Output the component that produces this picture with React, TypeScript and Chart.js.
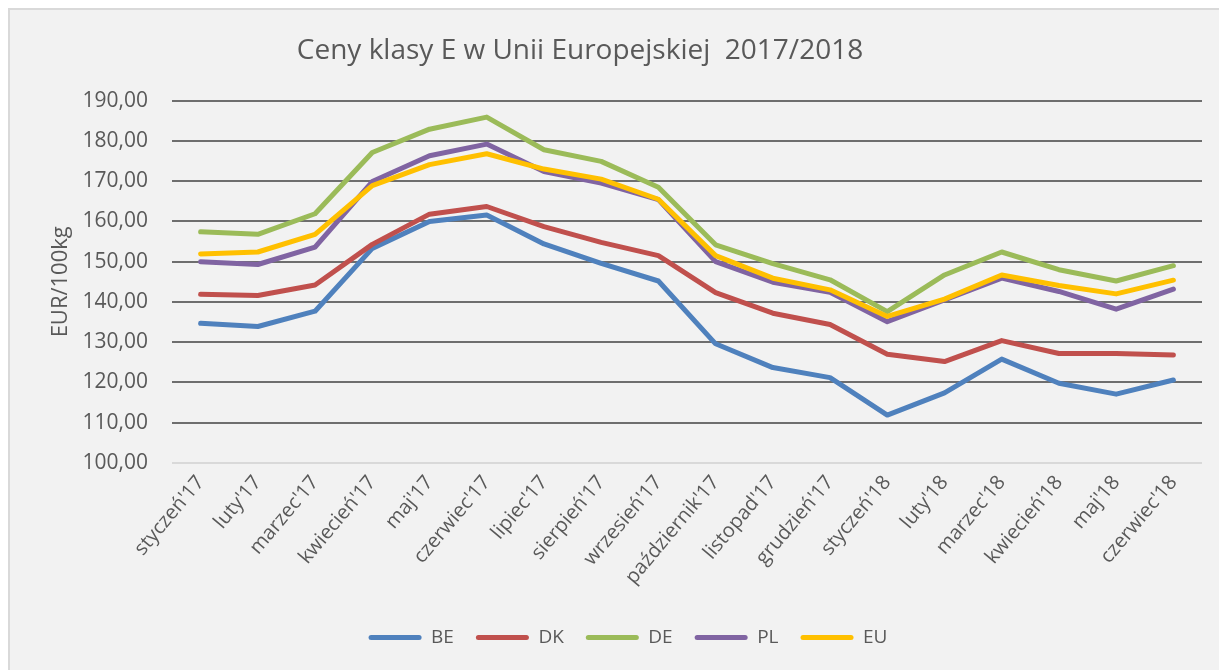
import React, { useEffect, useRef } from "react";
import { Chart, registerables } from "chart.js";

Chart.register(...registerables);

const months: string[] = [
  "styczeń'17", "luty'17", "marzec'17", "kwiecień'17", "maj'17", "czerwiec'17",
  "lipiec'17", "sierpień'17", "wrzesień'17", "październik'17", "listopad'17", "grudzień'17",
  "styczeń'18", "luty'18", "marzec'18", "kwiecień'18", "maj'18", "czerwiec'18",
];

const beValues: number[] = [134.7, 133.9, 137.7, 153.3, 160.0, 161.6, 154.4, 149.6, 145.2, 129.6, 123.7, 121.2, 111.9, 117.4, 125.8, 119.8, 117.1, 120.6];
const dkValues: number[] = [141.9, 141.6, 144.2, 154.3, 161.8, 163.7, 158.7, 154.8, 151.5, 142.3, 137.2, 134.4, 127.0, 125.2, 130.4, 127.2, 127.2, 126.8];
const deValues: number[] = [157.4, 156.8, 161.9, 177.1, 182.9, 185.9, 177.8, 174.9, 168.5, 154.2, 149.5, 145.5, 137.6, 146.7, 152.4, 148.0, 145.2, 149.0];
const plValues: number[] = [150.0, 149.3, 153.6, 169.9, 176.3, 179.2, 172.4, 169.5, 165.4, 150.0, 144.9, 142.4, 135.1, 140.5, 145.9, 142.6, 138.2, 143.2];
const euValues: number[] = [151.9, 152.4, 156.8, 168.9, 174.1, 176.8, 173.0, 170.5, 165.5, 151.5, 145.9, 143.0, 136.4, 140.7, 146.7, 144.1, 142.0, 145.4];

const seriesNames: string[] = ["BE", "DK", "DE", "PL", "EU"];
const seriesColors: string[] = ["#4f81bd", "#c0504d", "#9bbb59", "#8064a2", "#ffc000"];

const titleText = "Ceny klasy E w Unii Europejskiej  2017/2018";
const yAxisTitle = "EUR/100kg";
const yMin = 100;
const yMax = 190;
const yStep = 10;

const FONT = "'Open Sans', 'Noto Sans', sans-serif";
const TEXT_COLOR = "#595959";

const shiftBoxes = {
  id: "shiftBoxes",
  afterLayout(chart: any) {
    const t = chart.titleBlock;
    if (t) { t.left -= 26; t.right -= 26; }
    const l = chart.legend;
    if (l) { l.left += 22; l.right += 22; }
  },
};

export default function App() {
  const canvasRef = useRef<HTMLCanvasElement | null>(null);

  useEffect(() => {
    const canvas = canvasRef.current;
    if (!canvas) return;
    const allValues = [beValues, dkValues, deValues, plValues, euValues];
    const datasets = seriesNames.map((name, i) => ({
      label: name,
      data: allValues[i],
      borderColor: seriesColors[i],
      backgroundColor: seriesColors[i],
      borderWidth: 5,
      pointRadius: 0,
      pointHoverRadius: 0,
      tension: 0,
      borderJoinStyle: "round" as const,
      borderCapStyle: "round" as const,
      fill: false,
      order: seriesNames.length - i,
    }));

    const chart = new Chart(canvas, {
      type: "line",
      data: { labels: months, datasets },
      plugins: [shiftBoxes],
      options: {
        animation: false,
        responsive: false,
        devicePixelRatio: 1,
        layout: { padding: { left: 0, right: 17, top: 0, bottom: 13 } },
        plugins: {
          tooltip: { enabled: false },
          title: {
            display: true,
            text: titleText,
            color: TEXT_COLOR,
            font: { family: FONT, size: 28, weight: "normal", lineHeight: 1.2 },
            padding: { top: 24, bottom: 33 },
          },
          legend: {
            display: true,
            position: "bottom",
            labels: {
              color: TEXT_COLOR,
              font: { family: FONT, size: 19 },
              boxWidth: 53,
              boxHeight: 5,
              padding: 22,
              sort: (a: any, b: any) => a.datasetIndex - b.datasetIndex,
              generateLabels: (chart: any) => {
                const items = (Chart.defaults.plugins.legend.labels as any).generateLabels(chart);
                return items.map((it: any) => ({
                  ...it,
                  fillStyle: it.strokeStyle,
                  lineWidth: 0,
                  borderRadius: 2.5,
                }));
              },
            },
          },
        },
        scales: {
          x: {
            type: "category",
            offset: true,
            grid: { display: false, drawTicks: false },
            border: { display: false },
            ticks: {
              color: TEXT_COLOR,
              font: { family: FONT, size: 20 },
              autoSkip: false,
              minRotation: 50,
              maxRotation: 50,
              padding: 8,
            },
            afterFit: (scale: any) => { scale.height = 143; },
          },
          y: {
            min: yMin,
            max: yMax,
            grid: {
              drawTicks: false,
              lineWidth: 2,
              color: (ctx: any) => (ctx.tick && ctx.tick.value === yMin ? "#d9d9d9" : "#6e6e6e"),
            },
            border: { display: false },
            ticks: {
              stepSize: yStep,
              color: TEXT_COLOR,
              font: { family: FONT, size: 21 },
              padding: 24,
              callback: (v: any) => Number(v).toFixed(2).replace(".", ","),
            },
            title: {
              display: true,
              text: yAxisTitle,
              color: TEXT_COLOR,
              font: { family: FONT, size: 22, lineHeight: 1.2 },
              padding: { top: 38, bottom: 0 },
            },
            afterFit: (scale: any) => { scale.width = 162; },
          },
        },
      },
    });
    return () => chart.destroy();
  }, []);

  return (
    <div
      style={{
        position: "fixed",
        left: 8,
        top: 8,
        width: 1211,
        height: 662,
        boxSizing: "border-box",
        borderLeft: "2px solid #d9d9d9",
        borderTop: "2px solid #d9d9d9",
        background: "#f2f2f2",
      }}
    >
      <canvas ref={canvasRef} width={1209} height={660} style={{ display: "block", width: 1209, height: 660 }} />
    </div>
  );
}
